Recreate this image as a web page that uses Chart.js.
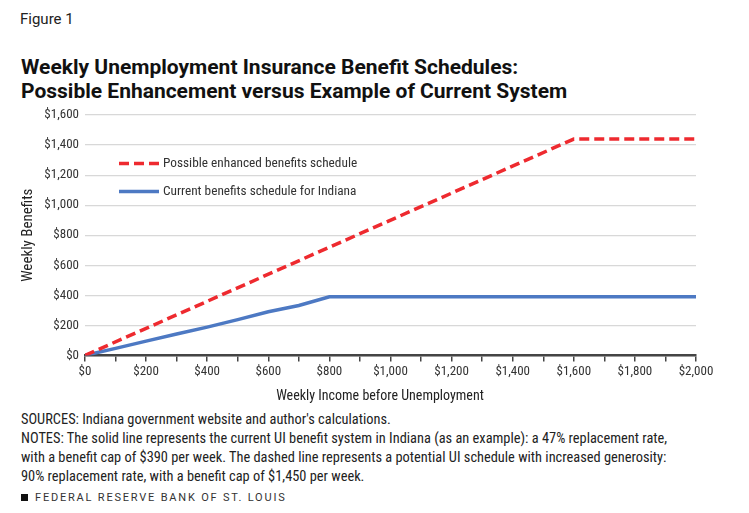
<!DOCTYPE html>
<html>
<head>
<meta charset="utf-8">
<script src="https://cdn.jsdelivr.net/npm/chart.js@4.4.0/dist/chart.umd.min.js"></script>
<style>
  body { margin: 0; width: 749px; height: 513px; background: #fff; position: relative; overflow: hidden;
         font-family: Roboto, sans-serif; color: #222; }
  .narrow { font-family: "Roboto Condensed", Roboto, sans-serif; }
  #fig { position: absolute; left: 20px; top: 10px; font-size: 15px; color: #222; }
  #title { position: absolute; left: 21px; top: 55px; font-weight: bold;
           font-size: 21px; line-height: 24px; color: #111; }
  #wrap { position: absolute; left: 0; top: 100px; width: 749px; height: 300px; }
  #xtitle { position: absolute; left: 0; width: 760px; top: 387px; text-align: center; font-size: 14px; color: #222; }
  #notes { position: absolute; left: 21px; top: 410px; font-size: 14.4px; line-height: 19px; color: #222; }
  #frb { position: absolute; left: 21px; top: 491px; font-size: 11px;
         letter-spacing: 1.8px; color: #333; }
  #frb span { display: inline-block; width: 7px; height: 7px; background: #111; margin-right: 7px; }
</style>
</head>
<body>
<div id="fig">Figure 1</div>
<div id="title">Weekly Unemployment Insurance Benefit Schedules:<br>Possible Enhancement versus Example of Current System</div>
<div id="wrap"><canvas id="myChart"></canvas></div>
<div id="xtitle" class="narrow">Weekly Income before Unemployment</div>
<div id="notes" class="narrow">SOURCES: Indiana government website and author's calculations.<br>
NOTES: The solid line represents the current UI benefit system in Indiana (as an example): a 47% replacement rate,<br>
with a benefit cap of $390 per week. The dashed line represents a potential UI schedule with increased generosity:<br>
90% replacement rate, with a benefit cap of $1,450 per week.</div>
<div id="frb"><span></span>FEDERAL RESERVE BANK OF ST. LOUIS</div>

<script>
// data
var seriesNames = ['Possible enhanced benefits schedule', 'Current benefits schedule for Indiana'];
var incomeEnhanced = [0, 1600, 2000];
var benefitEnhanced = [0, 1440, 1440];
var incomeCurrent = [0, 100, 200, 300, 400, 500, 600, 700, 800, 2000];
var benefitCurrent = [0, 47, 95, 142, 188, 238, 290, 332, 390, 390];
var yTicks = [0, 200, 400, 600, 800, 1000, 1200, 1400, 1600];

function pairs(xs, ys) {
  return xs.map(function (x, i) { return { x: x, y: ys[i] }; });
}
function money(v) {
  return '$' + v.toLocaleString('en-US');
}

var narrowFamily = '"Roboto Condensed", Roboto, sans-serif';
var tickFont = { family: narrowFamily, size: 13 };

/*
# legend drawn inside the plot area
*/
var insideLegend = {
  id: 'insideLegend',
  afterDatasetsDraw: function (chart) {
    var c = chart.ctx, a = chart.chartArea;
    chart.data.datasets.forEach(function (ds, i) {
      var y = a.top + 48.5 + i * 28;
      c.save();
      c.strokeStyle = ds.borderColor;
      c.lineWidth = ds.borderWidth;
      c.setLineDash(ds.borderDash || []);
      c.beginPath();
      c.moveTo(a.left + 34, y);
      c.lineTo(a.left + 74, y);
      c.stroke();
      c.setLineDash([]);
      c.fillStyle = '#333';
      c.font = '13.3px ' + narrowFamily;
      c.textBaseline = 'middle';
      c.fillText(ds.label, a.left + 78, y);
      c.restore();
    });
  }
};

var ctx = document.getElementById('myChart').getContext('2d');
var chart = new Chart(ctx, {
  type: 'line',
  data: {
    datasets: [{
      label: seriesNames[0],
      data: pairs(incomeEnhanced, benefitEnhanced),
      borderColor: '#ee2a2f',
      borderWidth: 3.5,
      borderDash: [10, 5],
      pointRadius: 0,
      tension: 0
    }, {
      label: seriesNames[1],
      data: pairs(incomeCurrent, benefitCurrent),
      borderColor: '#4d79c3',
      borderWidth: 3.5,
      pointRadius: 0,
      tension: 0
    }]
  },
  options: {
    responsive: true,
    maintainAspectRatio: false,
    animation: false,
    layout: { padding: { top: 15, right: 53, left: 19, bottom: 17 } },
    plugins: { legend: { display: false }, tooltip: { enabled: false } },
    scales: {
      x: {
        type: 'linear', min: 0, max: 2000,
        ticks: {
          stepSize: 100, color: '#333', font: tickFont, maxRotation: 0, autoSkip: false, padding: 3,
          callback: function (v) { return v % 200 === 0 ? money(v) : ''; }
        },
        grid: { drawOnChartArea: false, drawTicks: true, tickLength: 6, color: '#444', lineWidth: 1.5 },
        border: { display: true, color: '#444', width: 2.5 }
      },
      y: {
        min: 0, max: 1600,
        afterBuildTicks: function (s) { s.ticks = yTicks.map(function (v) { return { value: v }; }); },
        afterFit: function (s) { s.width = 66; },
        ticks: { color: '#333', font: tickFont, padding: 6, callback: function (v) { return money(v); } },
        grid: { drawTicks: false, color: '#d8d8d8', lineWidth: 1.2 },
        border: { display: false },
        title: { display: true, text: 'Weekly Benefits', color: '#222', font: { family: narrowFamily, size: 15 }, padding: 0 }
      }
    }
  },
  plugins: [insideLegend]
});
</script>
</body>
</html>
